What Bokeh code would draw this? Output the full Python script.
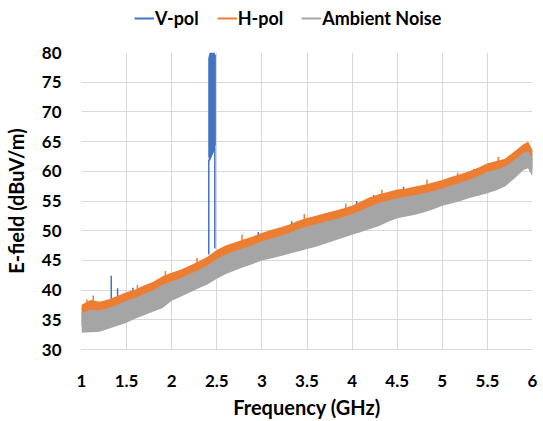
from bokeh.plotting import figure
from bokeh.layouts import column
from bokeh.models import Range1d, SingleIntervalTicker, Legend, LegendItem, NumeralTickFormatter
from bokeh.embed import file_html
from bokeh.resources import INLINE

freq_ghz = [1.0, 1.1, 1.2, 1.3, 1.4, 1.5, 1.6, 1.7, 1.8, 1.9, 2.0, 2.1, 2.2, 2.3, 2.4, 2.5,
            2.6, 2.7, 2.8, 2.9, 3.0, 3.1, 3.2, 3.3, 3.4, 3.5, 3.6, 3.7, 3.8, 3.9, 4.0, 4.1,
            4.2, 4.3, 4.4, 4.5, 4.6, 4.7, 4.8, 4.9, 5.0, 5.1, 5.2, 5.3, 5.4, 5.5, 5.6, 5.7,
            5.8, 5.9, 5.95, 6.0]

vpol_high = [37.2, 38.0, 37.7, 38.1, 38.7, 39.3, 39.8, 40.5, 41.1, 42.0, 42.6, 43.1, 43.8, 44.5,
             45.3, 46.4, 47.2, 47.7, 48.2, 48.7, 49.3, 49.8, 50.2, 50.7, 51.3, 51.8, 52.2, 52.6,
             53.0, 53.4, 53.9, 54.6, 55.3, 55.8, 56.2, 56.6, 56.8, 57.1, 57.4, 57.8, 58.2, 58.7,
             59.2, 59.7, 60.3, 61.0, 61.4, 61.8, 63.0, 64.2, 64.6, 63.1]
vpol_low = [34.0, 34.1, 34.2, 34.6, 35.1, 35.6, 36.3, 36.9, 37.5, 38.1, 39.3, 40.0, 40.7, 41.4,
            42.1, 43.0, 43.8, 44.4, 45.0, 45.5, 46.1, 46.4, 46.8, 47.2, 47.6, 48.0, 48.4, 48.9,
            49.4, 49.9, 50.4, 50.9, 51.4, 51.9, 52.6, 53.2, 53.5, 53.8, 54.2, 54.7, 55.3, 55.7,
            56.1, 56.6, 57.0, 57.4, 57.9, 58.6, 59.9, 61.3, 61.6, 60.2]

hpol_high = [37.4, 38.2, 37.9, 38.3, 38.9, 39.5, 40.0, 40.7, 41.3, 42.2, 42.8, 43.3, 44.0, 44.7,
             45.5, 46.6, 47.4, 47.9, 48.4, 48.9, 49.5, 50.0, 50.4, 50.9, 51.5, 52.0, 52.4, 52.8,
             53.2, 53.6, 54.1, 54.8, 55.5, 56.0, 56.4, 56.8, 57.0, 57.3, 57.6, 58.0, 58.4, 58.9,
             59.4, 59.9, 60.5, 61.2, 61.6, 62.0, 63.2, 64.4, 64.8, 63.3]
hpol_low = [33.8, 33.9, 34.0, 34.5, 35.0, 35.5, 36.2, 36.8, 37.4, 38.0, 39.2, 39.9, 40.6, 41.3,
            42.0, 42.9, 43.7, 44.3, 44.9, 45.4, 46.0, 46.3, 46.7, 47.1, 47.5, 47.9, 48.3, 48.8,
            49.3, 49.8, 50.3, 50.8, 51.3, 51.8, 52.5, 53.1, 53.4, 53.7, 54.1, 54.6, 55.2, 55.6,
            56.0, 56.5, 56.9, 57.3, 57.8, 58.5, 59.8, 61.2, 61.5, 60.1]

ambient_high = [36.0, 36.6, 36.5, 36.9, 37.5, 38.1, 38.6, 39.3, 39.9, 40.8, 41.4, 41.9, 42.6, 43.3,
                44.1, 45.1, 45.9, 46.5, 47.0, 47.5, 48.1, 48.6, 49.0, 49.5, 50.1, 50.6, 51.0, 51.4,
                51.8, 52.2, 52.7, 53.3, 54.0, 54.6, 55.0, 55.4, 55.6, 55.9, 56.2, 56.6, 57.0, 57.5,
                58.0, 58.5, 59.1, 59.8, 60.2, 60.7, 61.8, 63.0, 63.3, 61.9]
ambient_low = [32.8, 32.9, 33.0, 33.5, 34.0, 34.5, 35.2, 35.8, 36.4, 37.0, 38.2, 38.9, 39.6, 40.3,
               41.0, 41.9, 42.7, 43.3, 43.9, 44.4, 45.0, 45.3, 45.7, 46.1, 46.5, 46.9, 47.3, 47.8,
               48.3, 48.8, 49.3, 49.8, 50.3, 50.8, 51.5, 52.1, 52.4, 52.7, 53.1, 53.6, 54.2, 54.6,
               55.0, 55.5, 55.9, 56.3, 56.8, 57.5, 58.8, 60.2, 60.5, 59.1]

# V-pol narrow spikes (frequency, base, peak)
vpol_spike_f = [1.33, 1.40, 1.57, 2.411, 2.478, 2.96, 3.33, 4.05, 4.24, 4.57, 5.35, 5.83]
vpol_spike_base = [38.0, 38.6, 39.4, 46.0, 47.0, 48.8, 50.6, 53.8, 55.2, 56.6, 59.6, 62.6]
vpol_spike_top = [42.4, 40.3, 40.4, 62.0, 64.0, 49.8, 51.6, 55.0, 56.0, 57.4, 60.4, 63.6]

# H-pol narrow spikes (frequency, base, peak)
hpol_spike_f = [1.06, 1.13, 1.62, 1.93, 2.28, 2.78, 3.47, 3.93, 4.33, 4.83, 5.17, 5.62]
hpol_spike_base = [37.0, 37.6, 39.8, 42.0, 44.3, 47.8, 51.6, 53.4, 55.9, 57.5, 58.8, 61.4]
hpol_spike_top = [38.4, 39.1, 40.9, 43.2, 45.4, 49.3, 52.8, 54.6, 56.9, 58.6, 59.8, 62.4]

# V-pol 2.4 GHz burst envelope
vpol_burst_f = [2.405, 2.42, 2.44, 2.46, 2.475, 2.49]
vpol_burst_low = [62.5, 61.6, 62.3, 63.0, 63.5, 64.5]
vpol_burst_high = [79.0, 80.0, 80.0, 80.0, 80.0, 79.5]

series_names = ["V-pol", "H-pol", "Ambient Noise"]
series_colors = ["#4472C4", "#ED7D31", "#A5A5A5"]

FONT = "Lato"

p = figure(width=543, height=381, output_backend="svg", toolbar_location=None,
           x_range=Range1d(1, 6), y_range=Range1d(30, 80),
           min_border_left=81, min_border_right=11, min_border_top=12, min_border_bottom=67)
p.outline_line_color = None
p.background_fill_color = "white"
p.border_fill_color = "white"

# V-pol
p.varea(x=freq_ghz, y1=vpol_low, y2=vpol_high, fill_color=series_colors[0])
p.segment(x0=vpol_spike_f, y0=vpol_spike_base, x1=vpol_spike_f, y1=vpol_spike_top,
          line_color=series_colors[0], line_width=1.5)
p.varea(x=vpol_burst_f, y1=vpol_burst_low, y2=vpol_burst_high, fill_color=series_colors[0])

# H-pol
p.varea(x=freq_ghz, y1=hpol_low, y2=hpol_high, fill_color=series_colors[1])
p.line(freq_ghz, hpol_high, line_color=series_colors[1], line_width=1.5)
p.segment(x0=hpol_spike_f, y0=hpol_spike_base, x1=hpol_spike_f, y1=hpol_spike_top,
          line_color=series_colors[1], line_width=1.5)

# Ambient
p.varea(x=freq_ghz, y1=ambient_low, y2=ambient_high, fill_color=series_colors[2])
p.line(freq_ghz, ambient_high, line_color=series_colors[2], line_width=1.2)

# axes / grids
p.xaxis.ticker = SingleIntervalTicker(interval=0.5)
p.xgrid.ticker = SingleIntervalTicker(interval=0.5)
p.yaxis.ticker = SingleIntervalTicker(interval=5)
p.ygrid.ticker = SingleIntervalTicker(interval=5)
p.xaxis.formatter = NumeralTickFormatter(format="0.[0]")
for g in (p.xgrid, p.ygrid):
    g.grid_line_color = "#d9d9d9"
    g.grid_line_width = 1
for ax in (p.xaxis, p.yaxis):
    ax.major_tick_line_color = None
    ax.minor_tick_line_color = None
    ax.major_label_text_font = FONT
    ax.major_label_text_font_style = "bold"
    ax.major_label_text_font_size = "17px"
    ax.major_label_text_color = "black"
    ax.axis_label_text_font = FONT
    ax.axis_label_text_font_style = "bold"
    ax.axis_label_text_font_size = "20px"
    ax.axis_label_text_color = "black"
p.xaxis.axis_line_color = "#d9d9d9"
p.yaxis.axis_line_color = None
p.xaxis.axis_label = "Frequency (GHz)"
p.yaxis.axis_label = "E-field (dBuV/m)"
p.xaxis.major_label_standoff = 19
p.xaxis.axis_label_standoff = 5
p.yaxis.major_label_standoff = 14
p.yaxis.axis_label_standoff = 11

# legend strip above the chart
nan = float("nan")
leg_fig = figure(width=543, height=40, output_backend="svg", toolbar_location=None,
                 x_range=Range1d(0, 1), y_range=Range1d(0, 1), min_border=0)
leg_fig.axis.visible = False
leg_fig.grid.visible = False
leg_fig.outline_line_color = None
leg_renderers = [leg_fig.line(x=[nan, nan], y=[nan, nan], line_color=c, line_width=2)
                 for c in series_colors]
legend = Legend(items=[LegendItem(label=n, renderers=[r]) for n, r in zip(series_names, leg_renderers)],
                orientation="horizontal", location=(53, 11),
                label_text_font=FONT, label_text_font_style="bold", label_text_font_size="18px",
                label_text_color="black", glyph_width=20, glyph_height=18, label_standoff=1,
                spacing=18, padding=2, margin=0, border_line_color=None,
                background_fill_alpha=0)
leg_fig.add_layout(legend, "center")

layout = column(leg_fig, p, spacing=0)
open("out.html", "w").write(file_html(layout, INLINE))
